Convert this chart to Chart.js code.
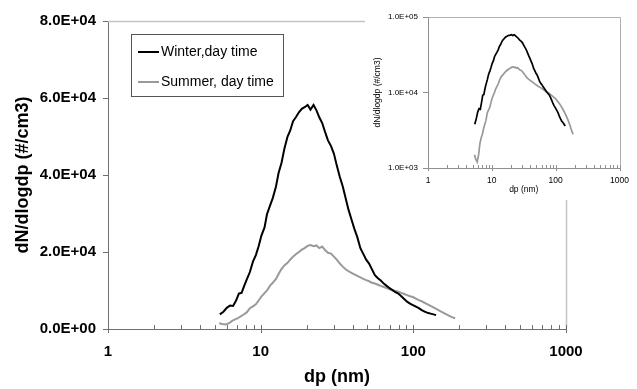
<!DOCTYPE html>
<html><head><meta charset="utf-8">
<script src="https://cdn.jsdelivr.net/npm/chart.js@4.4.0/dist/chart.umd.min.js"></script>
<style>
html,body{margin:0;padding:0;background:#fff;}
#wrap{position:relative;width:637px;height:389px;overflow:hidden;}
#main{position:absolute;left:0;top:0;}
#inset{position:absolute;left:365px;top:0;background:#fff;}
</style></head><body>
<div id="wrap"><canvas id="main" width="637" height="389"></canvas><canvas id="inset" width="272" height="200"></canvas></div>
<script>
// ---- data (dp in nm, dN/dlogdp in #/cm3) ----
const winterLabel = "Winter,day time";
const summerLabel = "Summer, day time";
const winterDp = [5.4,5.7,6.0,6.3,6.6,6.9,7.2,7.5,7.8,8.1,8.5,8.9,9.3,9.7,10.1,10.6,11.0,11.5,12.0,12.6,13.1,13.7,14.3,15.0,15.6,16.3,17.0,17.8,18.6,19.4,20.3,21.2,22.2,23.2,24.2,25.3,26.4,27.6,28.9,30.2,31.5,33.0,34.5,36.0,37.6,39.3,41.1,43.0,45.0,47.0,49.1,51.3,53.6,56.0,58.6,61.2,64.0,66.9,69.9,73.0,76.3,79.8,83.4,87.1,91.0,95.1,99.4,104,108.6,113.5,118.6,124,129.6,135.4,141];
const winterN = [3800,4500,5500,6100,6000,7400,9200,9400,11200,12800,14800,17500,19200,21500,24200,26400,29800,32000,34000,37000,40500,43200,46800,50000,51500,54000,55000,56300,57200,57600,58200,57000,58200,56800,55000,53500,51200,49000,47500,45500,42500,39500,37000,34000,31000,28500,26000,23800,21000,19500,18000,17000,15500,14000,13200,12600,11800,11200,10600,10100,9600,9200,8500,7800,7100,6600,6200,5800,5400,4900,4500,4200,4000,3800,3600];
const summerDp = [5.35,5.6,5.9,6.2,6.5,6.8,7.1,7.4,7.7,8.1,8.5,8.9,9.3,9.7,10.1,10.6,11.0,11.5,12.0,12.6,13.1,13.7,14.3,15.0,15.6,16.3,17.0,17.8,18.6,19.4,20.3,21.2,22.2,23.2,24.2,25.3,26.4,27.6,28.9,30.2,31.5,33.0,34.5,36.0,37.6,39.3,41.1,43.0,45.0,47.0,49.1,51.3,53.6,56.0,58.6,61.2,64.0,66.9,69.9,73.0,76.3,79.8,83.4,87.1,91.0,95.1,99.4,104,108.6,113.5,118.6,124,129.6,135.4,141.5,147.8,154.4,161.3,168.5,176,184,188];
const summerN = [1500,1300,1200,1500,2100,2500,2800,3300,3700,4300,5400,5900,6400,7400,8400,9300,10000,11200,12000,13000,14300,15600,16500,17200,18000,18800,19400,20000,20600,21000,21600,21800,21500,21700,21000,21400,20500,19800,19600,18800,18000,17000,16200,15500,15000,14600,14200,13800,13400,13000,12700,12400,12000,11800,11500,11200,10900,10600,10300,10100,9900,9700,9400,9100,8800,8500,8300,7900,7500,7200,6800,6400,6000,5600,5200,4800,4400,4000,3600,3200,2900,2800];
const xMajorTicks = [1,10,100,1000];
const mainYTicks = [0,20000,40000,60000,80000];
const insetYTicks = [1000,10000,100000];
const xTitle = "dp (nm)";
const yTitle = "dN/dlogdp (#/cm3)";

const FONT = "'Liberation Sans', Arial, sans-serif";
const WINTER_COLOR = '#000000';
const SUMMER_COLOR = '#999999';

function sci(v){
  if (v === 0) return '0.0E+00';
  const e = Math.floor(Math.log10(v) + 1e-9);
  const m = v / Math.pow(10, e);
  return m.toFixed(1) + 'E+' + String(e).padStart(2,'0');
}
function toXY(xs, ys){ return xs.map((x,i)=>({x:x, y:ys[i]})); }

function makeTickPlugin(id, color, inLen, outLen){
  return { id, afterDraw(chart){
    const xs = chart.scales.x, ca = chart.chartArea, ctx = chart.ctx;
    ctx.save(); ctx.strokeStyle = color; ctx.lineWidth = 1; ctx.beginPath();
    for (const d of [1,10,100]) for (let m=1;m<=10;m++){
      const v = d*m; if (m===10 && d!==100) continue;
      const major = (m===1 || m===10);
      const px = Math.round(xs.getPixelForValue(v)) + 0.5;
      ctx.moveTo(px, ca.bottom - inLen); ctx.lineTo(px, ca.bottom + (major ? outLen : 0));
    }
    ctx.stroke(); ctx.restore();
  }};
}
function makeFramePlugin(id, color, width){
  return { id, beforeDatasetsDraw(chart){
    const ca = chart.chartArea, ctx = chart.ctx;
    ctx.save(); ctx.strokeStyle = color; ctx.lineWidth = width; ctx.beginPath();
    ctx.moveTo(ca.left, Math.round(ca.top)+0.5); ctx.lineTo(Math.round(ca.right)+0.5, Math.round(ca.top)+0.5);
    ctx.lineTo(Math.round(ca.right)+0.5, ca.bottom);
    ctx.stroke(); ctx.restore();
  }};
}
const legendPlugin = { id:'boxLegend', afterDraw(chart){
  const ctx = chart.ctx;
  ctx.save();
  ctx.fillStyle = '#fff'; ctx.fillRect(131,34,153,62);
  ctx.strokeStyle = '#555'; ctx.lineWidth = 1; ctx.strokeRect(131.5,34.5,152,62);
  const rows = [52, 82];
  chart.data.datasets.forEach((ds,i)=>{
    const y = rows[i];
    ctx.strokeStyle = ds.borderColor; ctx.lineWidth = 2;
    ctx.beginPath(); ctx.moveTo(138, y); ctx.lineTo(159, y); ctx.stroke();
    ctx.fillStyle = '#000'; ctx.font = '14px ' + FONT; ctx.textBaseline = 'middle'; ctx.textAlign='left';
    ctx.fillText(ds.label, 161, y);
  });
  ctx.restore();
}};

const mainChart = new Chart(document.getElementById('main'), {
  type: 'line',
  data: { datasets: [
    { label: winterLabel, data: toXY(winterDp, winterN), borderColor: WINTER_COLOR, borderWidth: 2, pointRadius: 0, tension: 0, fill:false },
    { label: summerLabel, data: toXY(summerDp, summerN), borderColor: SUMMER_COLOR, borderWidth: 2, pointRadius: 0, tension: 0, fill:false }
  ]},
  options: {
    responsive: false, animation: false, devicePixelRatio: 1,
    layout: { padding: { top: 21, right: 71, left: 0, bottom: 0 } },
    plugins: { legend: { display: false }, tooltip: { enabled: false } },
    scales: {
      x: { type: 'logarithmic', min: 1, max: 1000,
        afterBuildTicks: s => { s.ticks = xMajorTicks.map(v=>({value:v})); },
        afterFit: s => { s.height = 60; },
        grid: { display: false, drawTicks: false },
        border: { display: true, color: '#707070', width: 1 },
        ticks: { color: '#000', font: { family: FONT, size: 15, weight: 'bold' }, padding: 14, maxRotation: 0, autoSkip: false, callback: v => String(v) },
        title: { display: true, text: xTitle, color: '#000', font: { family: FONT, size: 18, weight: 'bold' }, padding: { top: 0, bottom: 1.5 } }
      },
      y: { type: 'linear', min: 0, max: 80000,
        afterBuildTicks: s => { s.ticks = mainYTicks.map(v=>({value:v})); },
        afterFit: s => { s.width = 108; },
        grid: { drawOnChartArea: false, drawTicks: true, tickLength: 5, color: '#707070' },
        border: { display: true, color: '#707070', width: 1 },
        ticks: { color: '#000', font: { family: FONT, size: 15, weight: 'bold' }, padding: 7, callback: v => sci(v) },
        title: { display: true, text: yTitle, color: '#000', font: { family: FONT, size: 18, weight: 'bold' }, padding: { top: 12, bottom: 0 } }
      }
    }
  },
  plugins: [makeFramePlugin('frameMain','#c4c4c4',1.5), makeTickPlugin('ticksMain','#707070',4,4), legendPlugin]
});

const insetChart = new Chart(document.getElementById('inset'), {
  type: 'line',
  data: { datasets: [
    { label: winterLabel, data: toXY(winterDp, winterN), borderColor: WINTER_COLOR, borderWidth: 1.7, pointRadius: 0, tension: 0, fill:false },
    { label: summerLabel, data: toXY(summerDp, summerN), borderColor: SUMMER_COLOR, borderWidth: 1.7, pointRadius: 0, tension: 0, fill:false }
  ]},
  options: {
    responsive: false, animation: false, devicePixelRatio: 1,
    layout: { padding: { top: 17, right: 8, left: 0, bottom: 0 } },
    plugins: { legend: { display: false }, tooltip: { enabled: false } },
    scales: {
      x: { type: 'logarithmic', min: 1, max: 1000,
        afterBuildTicks: s => { s.ticks = xMajorTicks.map(v=>({value:v})); },
        afterFit: s => { s.height = 32; },
        grid: { display: false, drawTicks: false },
        border: { display: true, color: '#909090', width: 1 },
        ticks: { color: '#000', font: { family: FONT, size: 8.5 }, padding: 8, maxRotation: 0, autoSkip: false, callback: v => String(v) },
        title: { display: true, text: xTitle, color: '#000', font: { family: FONT, size: 8.5 }, padding: { top: 0, bottom: 5 } }
      },
      y: { type: 'logarithmic', min: 1000, max: 100000,
        afterBuildTicks: s => { s.ticks = insetYTicks.map(v=>({value:v})); },
        afterFit: s => { s.width = 63; },
        grid: { drawOnChartArea: false, drawTicks: true, tickLength: 5, color: '#909090' },
        border: { display: true, color: '#909090', width: 1 },
        ticks: { color: '#000', font: { family: FONT, size: 8 }, padding: 5, autoSkip: false, callback: v => sci(v) },
        title: { display: true, text: yTitle, color: '#000', font: { family: FONT, size: 8.5 }, padding: { top: 8, bottom: 0 } }
      }
    }
  },
  plugins: [makeFramePlugin('frameInset','#b0b0b0',1), makeTickPlugin('ticksInset','#909090',3,3)]
});
</script>
</body></html>
